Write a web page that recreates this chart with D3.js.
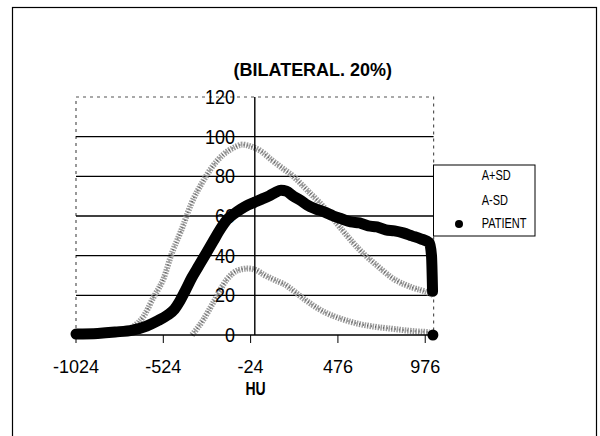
<!DOCTYPE html>
<html>
<head>
<meta charset="utf-8">
<script src="https://cdn.jsdelivr.net/npm/d3@7"></script>
<style>
  html, body { margin: 0; padding: 0; background: #fff; }
  svg { display: block; }
  text { font-family: "Liberation Sans", Arial, sans-serif; fill: #000; }
</style>
</head>
<body>
<div id="chart"></div>
<script>
// ---- data ----
const title = "(BILATERAL. 20%)";
const xLabel = "HU";
const xTicks = [-1024, -524, -24, 476, 976];
const yTicks = [0, 20, 40, 60, 80, 100, 120];
const seriesNames = ["A+SD", "A-SD", "PATIENT"];

const plusSD_HU  = [-760, -700, -640, -580, -520, -480, -420, -360, -300, -250, -180, -120, -70, -20, 30, 100, 160, 220, 300, 400, 500, 600, 700, 800, 900, 1000, 1020];
const plusSD_Val = [1, 4, 9, 19, 29, 40, 53, 67, 77, 84, 91, 94.5, 96, 95, 93, 88, 84, 80, 73, 64, 53, 43, 35, 28, 24, 21, 20];

const minusSD_HU  = [-360, -300, -240, -160, -100, -40, 0, 60, 120, 180, 240, 300, 400, 500, 600, 700, 800, 900, 1000];
const minusSD_Val = [0, 7, 16, 28, 32.5, 33.5, 33, 30, 27.5, 25, 21, 17, 11.5, 8, 5.5, 4, 3, 2, 1.5];

const patientHU  = [-1024, -900, -800, -700, -620, -560, -500, -460, -430, -400, -360, -320, -280, -240, -200, -160, -120, -80, -40, 0, 40, 80, 120, 150, 180, 220, 260, 300, 350, 400, 450, 500, 550, 600, 650, 700, 750, 800, 850, 900, 950, 1000, 1012, 1018];
const patientVal = [0.5, 0.8, 1.5, 2.5, 4.5, 7, 10, 13, 17, 22, 29, 35, 41, 47, 53, 58, 61, 63.5, 65.5, 67, 68.5, 70, 72, 73, 72.5, 70, 68, 65.5, 63.5, 62, 60, 58.5, 57, 56.5, 55, 54.5, 53, 52.5, 51.5, 50, 48.5, 46.5, 40, 22];
const patientEndHU = [1020];
const patientEndVal = [0];

// ---- layout ----
const W = 600, H = 436;
const svg = d3.select("#chart").append("svg").attr("width", W).attr("height", H);

const x = d3.scaleLinear().domain([-1024, 1024]).range([76, 433.6]);
const y = d3.scaleLinear().domain([0, 120]).range([335, 97]);

// outer frame
svg.append("rect").attr("x", 12.5).attr("y", 7.5).attr("width", 584).attr("height", 440)
  .attr("fill", "none").attr("stroke", "#000").attr("stroke-width", 1.2);

// stretched text helper
function stext(g, txt, px, py, size, sy, anchor, weight) {
  return g.append("text")
    .attr("transform", `translate(${px},${py}) scale(1,${sy})`)
    .attr("text-anchor", anchor || "middle")
    .attr("font-size", size)
    .attr("font-weight", weight || "normal")
    .text(txt);
}

// plot border (speckled)
const px0 = x(-1024), px1 = x(1024), py0 = y(0), py1 = y(120);
svg.append("path")
  .attr("d", `M${px0},${py0}V${py1}H${px1}V${py0}`)
  .attr("fill", "none").attr("stroke", "#555").attr("stroke-width", 1.2)
  .attr("stroke-dasharray", "3,4");

// gridlines
svg.append("g").selectAll("line").data(yTicks.filter(d => d > 0 && d < 120)).join("line")
  .attr("x1", px0).attr("x2", px1)
  .attr("y1", d => y(d)).attr("y2", d => y(d))
  .attr("stroke", "#000").attr("stroke-width", 1.4);

// series lines
const line = d3.line().x(d => x(d[0])).y(d => y(d[1])).curve(d3.curveMonotoneX);

const plusData = plusSD_HU.map((h, i) => [h, plusSD_Val[i]]);
const minusData = minusSD_HU.map((h, i) => [h, minusSD_Val[i]]);
const patData = patientHU.map((h, i) => [h, patientVal[i]]);

[plusData, minusData].forEach(dat => {
  svg.append("path").datum(dat).attr("d", line)
    .attr("fill", "none").attr("stroke", "#8a8a8a").attr("stroke-width", 6)
    .attr("stroke-dasharray", "1.5,1.2").attr("opacity", 0.85);
  svg.append("path").datum(dat).attr("d", line)
    .attr("fill", "none").attr("stroke", "#444").attr("stroke-width", 2)
    .attr("stroke-dasharray", "1,3").attr("opacity", 0.7);
});

svg.append("path").datum(patData).attr("d", line)
  .attr("fill", "none").attr("stroke", "#000").attr("stroke-width", 11)
  .attr("stroke-linejoin", "round").attr("stroke-linecap", "round");

svg.append("g").selectAll("circle").data(patientEndHU.map((h, i) => [h, patientEndVal[i]])).join("circle")
  .attr("cx", d => x(d[0])).attr("cy", d => y(d[1])).attr("r", 5.5).attr("fill", "#000");

// x axis (at y=0)
const xAxis = svg.append("g");
xAxis.append("line").attr("x1", px0).attr("x2", px1).attr("y1", py0).attr("y2", py0)
  .attr("stroke", "#000").attr("stroke-width", 1.4);
xAxis.selectAll("line.tick").data(xTicks).join("line").attr("class", "tick")
  .attr("x1", d => x(d)).attr("x2", d => x(d)).attr("y1", py0).attr("y2", py0 + 8)
  .attr("stroke", "#000").attr("stroke-width", 1);
xTicks.forEach(t => stext(xAxis, String(t), x(t), 373, 18, 1.05, "middle"));

// y axis (crossing at HU 0)
const ax = x(0);
svg.append("line").attr("x1", ax).attr("x2", ax).attr("y1", py1).attr("y2", py0)
  .attr("stroke", "#000").attr("stroke-width", 1.4);
const yAxisG = svg.append("g");
yTicks.forEach(t => stext(yAxisG, String(t), 235, y(t) + 7, 18, 1.1, "end"));

// title and axis label
stext(svg, title, 312.8, 75.5, 18, 1.05, "middle", "bold");
stext(svg, xLabel, 255.5, 395, 14, 1.25, "middle", "bold");

// legend
const lg = svg.append("g");
lg.append("rect").attr("x", 433.5).attr("y", 165).attr("width", 101.5).attr("height", 71)
  .attr("fill", "#fff").attr("stroke", "#000").attr("stroke-width", 1);
const legY = [180, 205, 228];
seriesNames.forEach((n, i) => stext(lg, n, 481.7, legY[i], 11, 1.27, "start"));
lg.append("circle").attr("cx", 459).attr("cy", 224).attr("r", 4).attr("fill", "#000");
</script>
</body>
</html>
